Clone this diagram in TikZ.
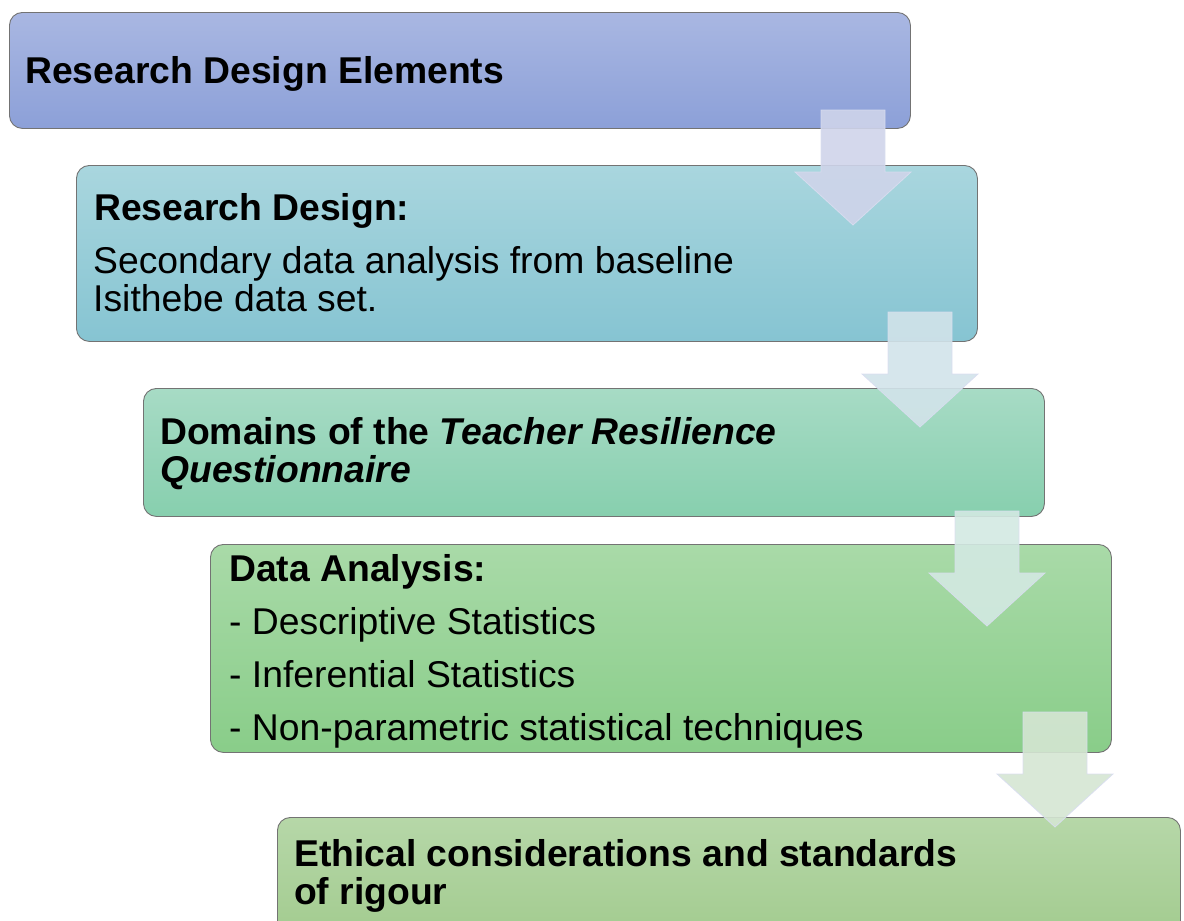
\documentclass[tikz,border=0pt]{standalone}
\usepackage{fontspec}
\setmainfont{Liberation Sans}
\definecolor{arrowedge}{HTML}{D9DDF0}
% block arrow pointing down: #1 centre x, #2 top y, #3 fill colour
\newcommand\stagearrow[3]{%
  \filldraw[fill=#3, fill opacity=0.9, draw=arrowedge, draw opacity=0.9, line width=0.8pt]
    (#1-32,#2) -- (#1+32,#2) -- (#1+32,#2+62) -- (#1+58,#2+62) -- (#1,#2+115)
    -- (#1-58,#2+62) -- (#1-32,#2+62) -- cycle;}
\begin{document}
\begin{tikzpicture}[x=1pt,y=-1pt,
  stage/.style={draw=black!55, line width=0.9pt, rounded corners=13pt,
    anchor=north west, inner sep=0pt, minimum width=901pt},
  plain/.style={anchor=base west, inner sep=0pt, font=\fontsize{37.3}{38}\selectfont},
  heading/.style={anchor=base west, inner sep=0pt, font=\fontsize{37.3}{38}\selectfont\bfseries}]
\useasboundingbox (0,0) rectangle (1184,921);
\clip (0,0) rectangle (1184,921);

% stages
\node[stage, minimum height=116pt, top color={rgb,255:red,169;green,183;blue,226}, bottom color={rgb,255:red,140;green,160;blue,216}] (b1) at (9,12) {};
\node[stage, minimum height=176pt, top color={rgb,255:red,169;green,214;blue,222}, bottom color={rgb,255:red,134;green,196;blue,210}] (b2) at (76,165) {};
\node[stage, minimum height=128pt, top color={rgb,255:red,167;green,219;blue,197}, bottom color={rgb,255:red,135;green,207;blue,174}] (b3) at (143,388) {};
\node[stage, minimum height=208pt, top color={rgb,255:red,169;green,218;blue,168}, bottom color={rgb,255:red,137;green,205;blue,137}] (b4) at (210,544) {};
\node[stage, minimum height=135pt, minimum width=903pt, top color={rgb,255:red,182;green,215;blue,168}, bottom color={rgb,255:red,160;green,202;blue,140}] (b5) at (277,817) {};

% arrows between stages
\stagearrow{853}{110}{{rgb,255:red,207;green,212;blue,234}}
\stagearrow{920}{312}{{rgb,255:red,210;green,227;blue,234}}
\stagearrow{987}{511}{{rgb,255:red,211;green,233;blue,226}}
\stagearrow{1055}{712}{{rgb,255:red,213;green,230;blue,211}}

% texts
\node[heading] (t1) at (25,83) {Research Design Elements};

\node[heading] (t2) at (94,220) {Research Design:};
\node[plain] (t2a) at (93,273) {Secondary data analysis from baseline};
\node[plain] (t2b) at (93,311) {Isithebe data set.};

\node[heading] (t3) at (160,444) {Domains of the \itshape Teacher Resilience};
\node[heading] (t3a) at (160,482) {\itshape Questionnaire};

\node[heading] (t4) at (229,581) {Data Analysis:};
\node[plain] (t4a) at (229,634) {- Descriptive Statistics};
\node[plain] (t4b) at (229,687) {- Inferential Statistics};
\node[plain] (t4c) at (229,740) {- Non-parametric statistical techniques};

\node[heading] (t5) at (294,866) {Ethical considerations and standards};
\node[heading] (t5a) at (294,904) {of rigour};
\end{tikzpicture}
\end{document}
